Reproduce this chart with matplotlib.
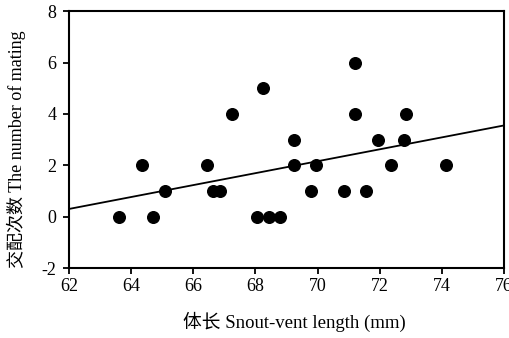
import numpy as np
import matplotlib
matplotlib.use('Agg')
import matplotlib.pyplot as plt

plt.rcParams['font.family'] = ['Liberation Serif', 'Noto Sans CJK SC']
plt.rcParams['axes.unicode_minus'] = False

# snout-vent length (mm) and number of matings
svl = [63.6, 64.35, 64.7, 65.1, 66.45, 66.65, 66.85, 67.25, 68.05, 68.25, 68.45,
       68.8, 69.25, 69.25, 69.8, 69.95, 70.85, 71.2, 71.2, 71.55, 71.95, 72.35,
       72.8, 72.85, 74.15]
matings = [0, 2, 0, 1, 2, 1, 1, 4, 0, 5, 0,
           0, 3, 2, 1, 2, 1, 6, 4, 1, 3, 2,
           3, 4, 2]
# regression line (value at 62 and at 76)
fit_x = [62, 76]
fit_y = [0.3, 3.55]

xticks = [62, 64, 66, 68, 70, 72, 74, 76]
yticks = [-2, 0, 2, 4, 6, 8]

fig = plt.figure(figsize=(5.1, 3.38), dpi=100)
ax = fig.add_axes([0.1353, 0.207, 0.8527, 0.760])

ax.plot(fit_x, fit_y, color='k', lw=1.3, zorder=2)
ax.scatter(svl, matings, s=70, color='k', zorder=3)

ax.set_xlim(62, 76)
ax.set_ylim(-2, 8)
ax.set_xticks(xticks)
ax.set_yticks(yticks)
for sp in ax.spines.values():
    sp.set_linewidth(1.5)
ax.tick_params(direction='out', length=4, width=1.3, labelsize=13)
ax.tick_params(axis='x', pad=3.5)
ax.tick_params(axis='y', pad=5)

ax.set_xlabel('体长 Snout-vent length (mm)', fontsize=13.5)
ax.set_ylabel('交配次数 The number of mating', fontsize=13)
ax.xaxis.set_label_coords(0.518, -0.17)
ax.yaxis.set_label_coords(-0.1, 0.463)

fig.savefig('out.png', dpi=100)
